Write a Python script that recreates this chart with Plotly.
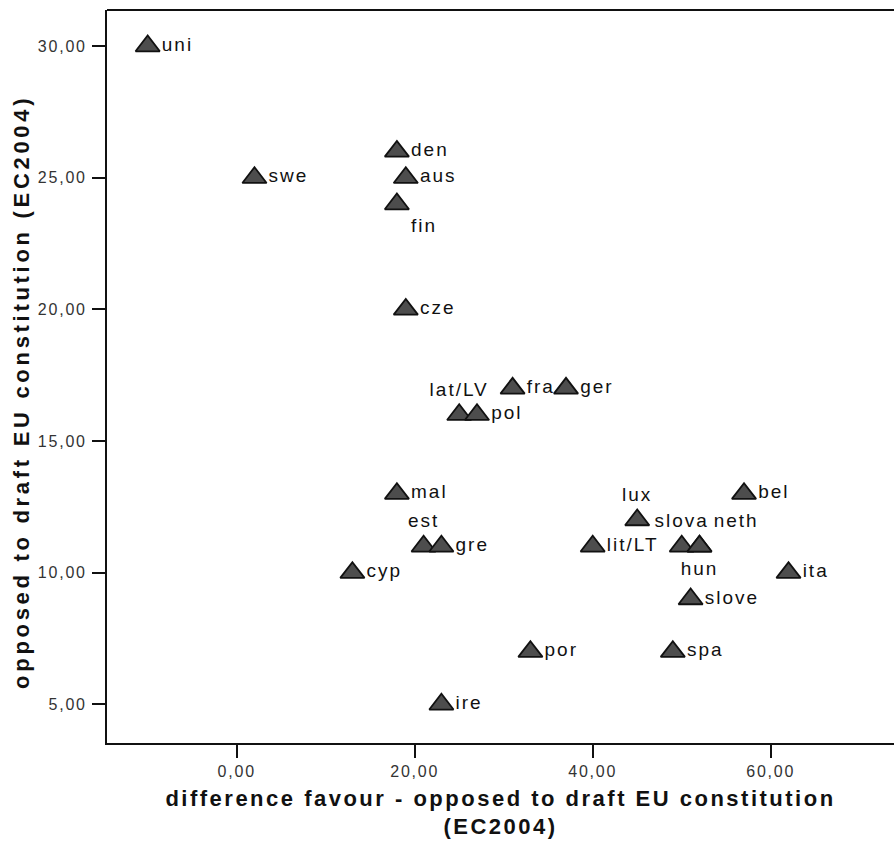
import plotly.graph_objects as go

# ---- data ----
countries = ["uni", "swe", "den", "aus", "fin", "cze", "fra", "ger", "lat/LV", "pol",
             "mal", "est", "gre", "cyp", "ire", "por", "lit/LT", "lux", "slova", "neth",
             "hun", "bel", "ita", "slove", "spa"]
diff_favour = [-10, 2, 18, 19, 18, 19, 31, 37, 25, 27,
               18, 21, 23, 13, 23, 33, 40, 45, 50, 52,
               52, 57, 62, 51, 49]
opposed = [30, 25, 26, 25, 24, 20, 17, 17, 16, 16,
           13, 11, 11, 10, 5, 7, 11, 12, 11, 11,
           11, 13, 10, 9, 7]
x_tick_vals = [0, 20, 40, 60]
x_tick_text = ["0,00", "20,00", "40,00", "60,00"]
y_tick_vals = [5, 10, 15, 20, 25, 30]
y_tick_text = ["5,00", "10,00", "15,00", "20,00", "25,00", "30,00"]
x_title = "difference favour - opposed to draft EU constitution<br>(EC2004)"
y_title = "opposed to draft EU constitution (EC2004)"

# label placement (style, not data)
label_pos = {
    "fin": "bottom right", "lat/LV": "top center", "est": "top center",
    "lux": "top center", "slova": "top center", "neth": "top right",
    "hun": "bottom center",
}
positions = [label_pos.get(c, "middle right") for c in countries]


def spaced(s, px):
    return f'<span style="letter-spacing:{px}px">{s}</span>'


FONT = "Liberation Sans, Arial, sans-serif"

fig = go.Figure()
fig.add_trace(go.Scatter(
    x=diff_favour, y=opposed, mode="markers+text",
    text=[spaced(c, 2) for c in countries],
    textposition=positions,
    textfont=dict(family=FONT, size=19, color="#111111"),
    marker=dict(symbol="triangle-up", size=21, color="#4d4d4d",
                line=dict(color="#111111", width=1.8)),
    cliponaxis=False, showlegend=False, hoverinfo="skip",
))

fig.update_layout(
    width=894, height=841,
    margin=dict(l=107, r=0, t=10, b=98),
    paper_bgcolor="white", plot_bgcolor="white",
    font=dict(family=FONT, color="#111111"),
    xaxis=dict(
        range=[-14.57, 73.85], showgrid=False, zeroline=False,
        showline=True, linecolor="#111111", linewidth=2,
        ticks="outside", ticklen=13, tickwidth=2, tickcolor="#111111",
        tickvals=x_tick_vals, ticktext=[spaced(t, 1.8) for t in x_tick_text],
        tickfont=dict(family=FONT, size=16, color="#333333"),
        ticklabelstandoff=0,
        title=dict(text=spaced(x_title, 2.5), standoff=11,
                   font=dict(family=FONT, size=22, color="#111111", weight="bold")),
    ),
    yaxis=dict(
        range=[3.53, 31.37], showgrid=False, zeroline=False,
        showline=True, linecolor="#111111", linewidth=2,
        ticks="outside", ticklen=13, tickwidth=2, tickcolor="#111111",
        tickvals=y_tick_vals, ticktext=[spaced(t, 1.8) for t in y_tick_text],
        tickfont=dict(family=FONT, size=16, color="#333333"),
        ticklabelstandoff=2,
    ),
    annotations=[dict(
        text=spaced(y_title, 3.7), textangle=-90, showarrow=False,
        xref="paper", yref="paper", x=0, y=0.479, xanchor="center", yanchor="middle",
        xshift=-85, font=dict(family=FONT, size=22, color="#111111", weight="bold"),
    )],
    shapes=[dict(type="line", xref="paper", yref="paper", x0=0, x1=1, y0=1, y1=1,
                 line=dict(color="#111111", width=2))],
)

fig.write_html("out.html")
